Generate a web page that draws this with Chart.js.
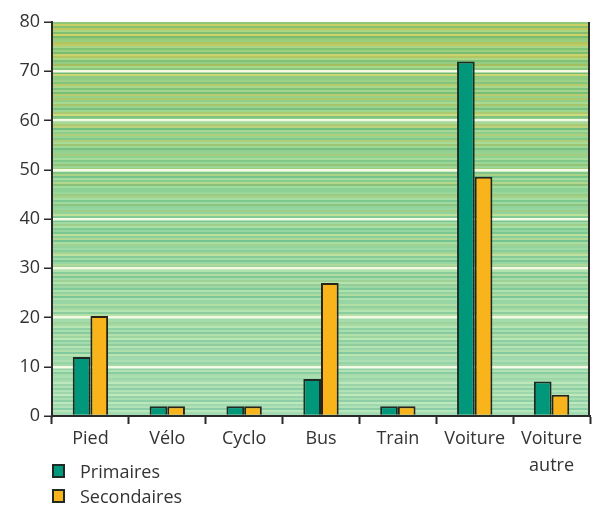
<!DOCTYPE html>
<html lang="fr">
<head>
<meta charset="utf-8">
<script src="https://cdn.jsdelivr.net/npm/chart.js@4.4.1/dist/chart.umd.min.js"></script>
<style>
  html, body { margin: 0; padding: 0; background: #ffffff; }
  #wrap { position: relative; width: 592px; height: 507px; }
  #c { position: absolute; left: 0; top: 0; }
  #legend { position: absolute; left: 52px; top: 458px; font-family: "Open Sans", sans-serif; font-size: 18px; color: #333; }
  #legend .item { display: flex; align-items: center; height: 25px; }
  #legend .box { width: 9px; height: 10px; border: 2px solid #1f2a22; margin-right: 15px; }
</style>
</head>
<body>
<div id="wrap">
  <canvas id="c" width="592" height="507"></canvas>
  <div id="legend"></div>
</div>
<script>
// Modes of travel to school, in percent of pupils
const categories = ["Pied", "Vélo", "Cyclo", "Bus", "Train", "Voiture", ["Voiture", "autre"]];
const primaires = [12, 2, 2, 7.5, 2, 72, 7];
const secondaires = [20.3, 2, 2, 27, 2, 48.6, 4.3];
const seriesNames = ["Primaires", "Secondaires"];
const yTicks = [0, 10, 20, 30, 40, 50, 60, 70, 80];

const colPrim = "#00977a";
const colSec = "#f9b41c";
const ink = "#2b2b2b";

// Striped green background of the plot area
const stripeShift = [0, 26, -18, 8, 30, -10, 16, -22, 4, 22, -14, 12, 32, -6, 10, -20, 18, 2, 28, -12, 6, -16, 24, 0, 14, -24, 20, 6];
const stripes = {
  id: "stripes",
  beforeDraw(chart) {
    const { ctx, chartArea: a } = chart;
    ctx.save();
    const h = a.bottom - a.top;
    const step = 2;
    let i = 0;
    for (let y = a.top; y < a.bottom; y += step, i++) {
      const t = (y - a.top) / h;
      // top: yellow-green, middle: green, bottom: pale mint
      const mid = 1 - Math.abs(t - 0.45) * 2;
      const r = 158 + (165 - 158) * t - 14 * Math.max(0, mid);
      const g = 200 + (220 - 200) * t;
      const b = 118 + (180 - 118) * t + 6 * Math.max(0, mid);
      const s = stripeShift[i % stripeShift.length] * 0.8 + stripeShift[(i * 7) % stripeShift.length] * 0.4;
      const warm = (i % 5 === 1 || i % 7 === 3) ? 1 : 0;
      const rr = r + s * 1.0 + warm * (34 * (1 - t)) - (1 - warm) * 12 * (1 - t);
      const gg = g + s * 0.55;
      const bb = b + s * 0.45 - warm * (26 * (1 - t));
      ctx.fillStyle = `rgb(${Math.round(rr)},${Math.round(gg)},${Math.round(bb)})`;
      ctx.fillRect(a.left, y, a.right - a.left, Math.min(step, a.bottom - y));
    }
    ctx.restore();
  },
  afterDraw(chart) {
    const { ctx, chartArea: a } = chart;
    ctx.save();
    ctx.strokeStyle = ink;
    ctx.lineWidth = 2;
    ctx.beginPath();
    ctx.moveTo(a.right - 1, a.top);
    ctx.lineTo(a.right - 1, a.bottom);
    ctx.stroke();
    ctx.restore();
  }
};

const font = { family: "'Open Sans', sans-serif", size: 18, lineHeight: 1.5 };

new Chart(document.getElementById("c"), {
  type: "bar",
  data: {
    labels: categories,
    datasets: [
      { label: seriesNames[0], data: primaires, backgroundColor: colPrim, borderColor: "#1d2b24", borderWidth: 2 },
      { label: seriesNames[1], data: secondaires, backgroundColor: colSec, borderColor: "#2a2418", borderWidth: 2 }
    ]
  },
  options: {
    responsive: false,
    animation: false,
    layout: { padding: { top: 22, right: 2, left: 0, bottom: 0 } },
    datasets: { bar: { categoryPercentage: 0.46, barPercentage: 1.0 } },
    plugins: { legend: { display: false }, tooltip: { enabled: false } },
    scales: {
      x: {
        offset: true,
        afterFit(s) { s.height = 91; },
        grid: { offset: true, drawOnChartArea: false, drawTicks: true, tickLength: 8, tickColor: ink, tickWidth: 2 },
        border: { display: true, color: ink, width: 2 },
        ticks: { color: "#333", font, padding: 1, maxRotation: 0, autoSkip: false }
      },
      y: {
        min: 0, max: 80,
        afterBuildTicks(s) { s.ticks = yTicks.map(v => ({ value: v })); },
        afterFit(s) { s.width = 52; },
        grid: {
          drawTicks: true, tickLength: 8, tickColor: ink, tickWidth: 1.5,
          color: (c) => (c.tick && c.tick.value > 0 && c.tick.value < 80) ? "rgba(248,252,232,0.95)" : "rgba(0,0,0,0)",
          lineWidth: 2.5
        },
        border: { display: true, color: ink, width: 2 },
        ticks: { color: "#333", font: { family: "'Open Sans', sans-serif", size: 18 }, padding: 4 }
      }
    }
  },
  plugins: [stripes]
});

// Legend stacked below the axis
const legend = document.getElementById("legend");
[[seriesNames[0], colPrim], [seriesNames[1], colSec]].forEach(([name, col]) => {
  const it = document.createElement("div");
  it.className = "item";
  const bx = document.createElement("span");
  bx.className = "box";
  bx.style.background = col;
  const tx = document.createElement("span");
  tx.textContent = name;
  it.appendChild(bx);
  it.appendChild(tx);
  legend.appendChild(it);
});
</script>
</body>
</html>
